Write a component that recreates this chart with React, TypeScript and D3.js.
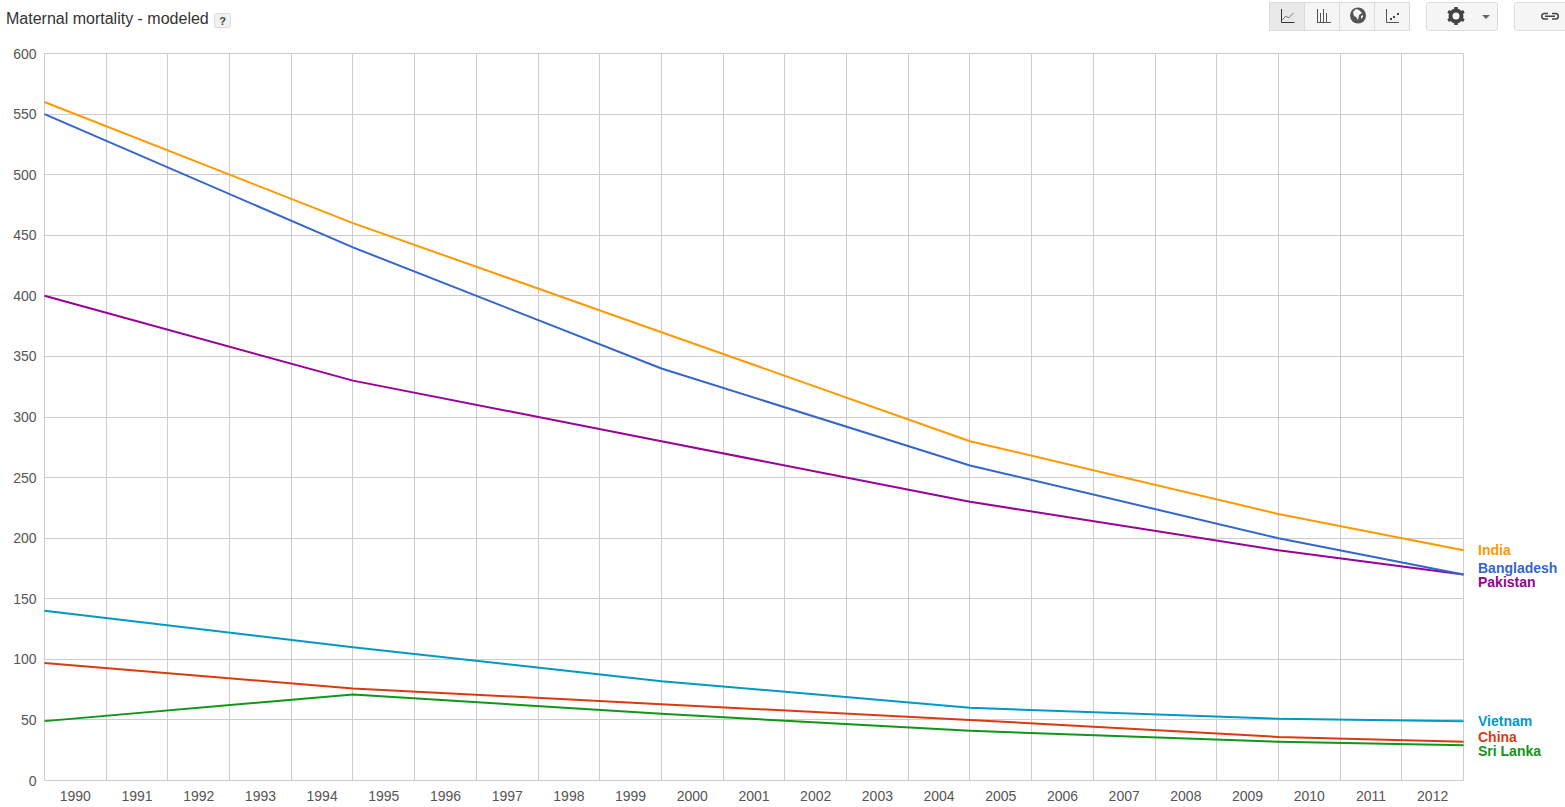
import * as d3 from "d3"

const title = "Maternal mortality - modeled"
const years = d3.range(1990, 2013)
const yTicks = d3.range(0, 601, 50)

// modeled estimates only exist every five years, plus the last one
const dataYears = [1990, 1995, 2000, 2005, 2010, 2013]
const india = [560, 460, 370, 280, 220, 190]
const bangladesh = [550, 440, 340, 260, 200, 170]
const pakistan = [400, 330, 280, 230, 190, 170]
const vietnam = [140, 110, 82, 60, 51, 49]
const china = [97, 76, 63, 50, 36, 32]
const sriLanka = [49, 71, 55, 41, 32, 29]

const series = [
  { name: "Vietnam", values: vietnam, color: "#0099c6", nudge: 0 },
  { name: "China", values: china, color: "#dc3912", nudge: -5 },
  { name: "Sri Lanka", values: sriLanka, color: "#109618", nudge: 6 },
  { name: "Pakistan", values: pakistan, color: "#990099", nudge: 7 },
  { name: "Bangladesh", values: bangladesh, color: "#3366cc", nudge: -7 },
  { name: "India", values: india, color: "#ff9900", nudge: 0 },
]

const W = 1565
const H = 807
const left = 44.5
const right = 1463.5
const top = 53.5
const bottom = 780.5
const font = "'Liberation Sans', Arial, sans-serif"

const x = d3.scaleLinear([1990, 2013], [left, right])
const y = d3.scaleLinear([0, 600], [bottom, top])
const band = d3.scaleBand(years.map(String), [left, right])
const crisp = (v: number) => Math.round(v - 0.5) + 0.5

function Button({ bx, w, active, r }: { bx: number; w: number; active?: boolean; r?: boolean }) {
  return (
    <rect
      x={bx}
      y={2.5}
      width={w}
      height={28}
      rx={r ? 2 : 0}
      fill={active ? "#e8e8e8" : "#f5f5f5"}
      stroke="#dcdcdc"
    />
  )
}

function Toolbar() {
  return (
    <g>
      <Button bx={1269.5} w={35} active />
      <Button bx={1304.5} w={35} />
      <Button bx={1339.5} w={35} />
      <Button bx={1374.5} w={35} />
      <Button bx={1426.5} w={71} r />
      <Button bx={1514.5} w={60} r />

      {/* line icon */}
      <path d="M1281.5 9v13.5H1294.5" fill="none" stroke="#333" />
      <path d="M1282 20l4-4 2.5 2 5-5" fill="none" stroke="#777" />
      {/* bars icon */}
      <path d="M1317.5 9v13.5M1320.5 13v9M1323.5 9v13M1326.5 13v9M1331 22.5h-14" fill="none" stroke="#555" />
      {/* globe icon */}
      <circle cx={1358} cy={15.5} r={8} fill="#555" />
      <path d="M1353 12l3-3 3 1 3 3-3 2-1 5-2-3-2-1zM1361 16l2-1 0 2-2 2z" fill="#f5f5f5" />
      {/* scatter icon */}
      <path d="M1386.5 9v13.5H1399" fill="none" stroke="#555" />
      <path d="M1390 18h2v2h-2zM1393 16h2v2h-2zM1397 13h2v2h-2z" fill="#444" />
      {/* gear */}
      <circle cx={1456} cy={16} r={5.5} fill="none" stroke="#444" strokeWidth={4} />
      <g stroke="#444" strokeWidth={3}>
        {d3.range(6).map((i) => (
          <line
            key={i}
            x1={1456}
            y1={7}
            x2={1456}
            y2={25}
            transform={`rotate(${i * 60} 1456 16)`}
            strokeDasharray="3 12 3"
          />
        ))}
      </g>
      <path d="M1482 15h8l-4 4z" fill="#666" />
      {/* link */}
      <path
        d="M1548 13.5h-3.5a2.7 2.7 0 0 0 0 5.5h3.5M1552 13.5h3.5a2.7 2.7 0 0 1 0 5.5h-3.5M1545 16.2h10"
        fill="none"
        stroke="#444"
        strokeWidth={1.5}
      />
    </g>
  )
}

export default function App() {
  const line = d3
    .line<number>()
    .x((_, i) => x(dataYears[i]))
    .y((d) => y(d))

  return (
    <svg
      width={W}
      height={H}
      viewBox={`0 0 ${W} ${H}`}
      style={{ position: "absolute", left: 0, top: 0, background: "#fff" }}
      fontFamily={font}
    >
      <text x={6} y={24} fontSize={16} fill="#333">
        {title}
      </text>
      <rect x={214.5} y={13.5} width={16} height={14} rx={2} fill="#f1f1f1" stroke="#ddd" />
      <text x={222.5} y={24.5} fontSize={11} fontWeight="bold" fill="#444" textAnchor="middle">
        ?
      </text>

      <Toolbar />

      <g stroke="#cccccc" fill="none">
        {yTicks.map((t) => (
          <line key={t} x1={left} x2={right} y1={crisp(y(t))} y2={crisp(y(t))} />
        ))}
        {d3.range(1990, 2014).map((yr) => (
          <line key={yr} x1={crisp(x(yr))} x2={crisp(x(yr))} y1={top} y2={bottom} />
        ))}
      </g>

      <g fontSize={14} fill="#555">
        {yTicks.map((t) => (
          <text key={t} x={36.5} y={y(t) + 5} textAnchor="end">
            {t}
          </text>
        ))}
        {years.map((yr) => (
          <text
            key={yr}
            x={band(String(yr))! + band.bandwidth() / 2}
            y={801}
            textAnchor="middle"
          >
            {yr}
          </text>
        ))}
      </g>

      {series.map((s) => (
        <path key={s.name} d={line(s.values)!} fill="none" stroke={s.color} strokeWidth={2} />
      ))}

      <g fontSize={14} fontWeight="bold">
        {series.map((s) => (
          <text
            key={s.name}
            x={right + 14.5}
            y={y(s.values[s.values.length - 1]) + s.nudge + 5}
            fill={s.color}
          >
            {s.name}
          </text>
        ))}
      </g>
    </svg>
  )
}
